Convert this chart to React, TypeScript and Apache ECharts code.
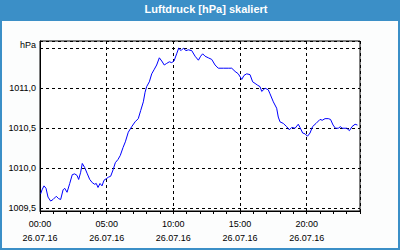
import React, { useEffect, useRef } from "react";
import * as echarts from "echarts";

const chartTitle = "Luftdruck [hPa] skaliert";
const unitLabel = "hPa";
const dateLabel = "26.07.16";

// hours since 00:00 on 26.07.16
const hours = [
  0.05, 0.15, 0.3, 0.45, 0.6, 0.8, 0.98, 1.22, 1.4, 1.55, 1.73, 1.85, 2.03, 2.23, 2.42, 2.6, 2.78, 2.9,
  3.05, 3.17, 3.35, 3.55, 3.73, 3.92, 4.1, 4.22, 4.35, 4.5, 4.65, 4.8, 4.97, 5.15, 5.3, 5.48, 5.65, 5.85,
  6.02, 6.23, 6.4, 6.62, 6.88, 7.13, 7.37, 7.55, 7.75, 7.88, 8.0, 8.2, 8.38, 8.55, 8.75, 8.95, 9.13, 9.32,
  9.5, 9.7, 9.88, 10.05, 10.25, 10.4, 10.58, 10.75, 10.95, 11.12, 11.38, 11.63, 11.88, 12.05, 12.2, 12.38,
  12.62, 12.88, 13.13, 13.37, 13.75, 14.12, 14.38, 14.63, 14.87, 15.13, 15.3, 15.5, 15.75, 15.95, 16.13,
  16.3, 16.5, 16.63, 16.88, 17.12, 17.25, 17.5, 17.75, 17.87, 18.0, 18.25, 18.5, 18.7, 18.88, 19.13, 19.37,
  19.5, 19.7, 19.88, 20.06, 20.25, 20.44, 20.7, 21.0, 21.17, 21.38, 21.62, 21.79, 21.98, 22.16, 22.37,
  22.54, 22.65, 23.0, 23.21, 23.4, 23.63, 23.81,
];

const pressure = [
  1009.68, 1009.73, 1009.78, 1009.75, 1009.64, 1009.59, 1009.61, 1009.65, 1009.62, 1009.61, 1009.73,
  1009.75, 1009.7, 1009.81, 1009.92, 1009.93, 1009.91, 1009.86, 1009.95, 1010.06, 1010.01, 1009.93,
  1009.86, 1009.82, 1009.8, 1009.81, 1009.76, 1009.81, 1009.78, 1009.85, 1009.87, 1009.89, 1009.9,
  1009.98, 1010.07, 1010.11, 1010.16, 1010.26, 1010.33, 1010.45, 1010.52, 1010.58, 1010.62, 1010.72,
  1010.83, 1010.95, 1011.02, 1011.08, 1011.18, 1011.23, 1011.29, 1011.38, 1011.34, 1011.29, 1011.31,
  1011.33, 1011.32, 1011.34, 1011.43, 1011.5, 1011.47, 1011.5, 1011.47, 1011.48, 1011.47, 1011.4,
  1011.35, 1011.4, 1011.43, 1011.4, 1011.38, 1011.36, 1011.29, 1011.25, 1011.25, 1011.25, 1011.25,
  1011.21, 1011.18, 1011.11, 1011.16, 1011.18, 1011.17, 1011.08, 1011.06, 1011.04, 1011.02, 1010.96,
  1011.0, 1010.98, 1010.93, 1010.83, 1010.75, 1010.64, 1010.58, 1010.56, 1010.52, 1010.48, 1010.51,
  1010.5, 1010.55, 1010.51, 1010.44, 1010.43, 1010.4, 1010.44, 1010.52, 1010.56, 1010.61, 1010.6,
  1010.62, 1010.62, 1010.61, 1010.54, 1010.5, 1010.5, 1010.52, 1010.5, 1010.5, 1010.47, 1010.52,
  1010.55, 1010.54,
];

const xMin = 0;
const xMax = 24;
const xLabelStep = 5;
const yMin = 1009.466;
const yMax = 1011.59;
const yStep = 0.5;

const FONT = "'Liberation Sans', Arial, sans-serif";
const BLUE = "#3b8fc7";

export default function App() {
  const ref = useRef<HTMLDivElement>(null);

  useEffect(() => {
    if (!ref.current) return;
    const chart = echarts.init(ref.current, undefined, { renderer: "svg" });
    const data = hours.map((h, i) => [h, pressure[i]]);
    const isStep = (v: number, s: number) => Math.abs(v / s - Math.round(v / s)) < 1e-6;

    chart.setOption({
      animation: false,
      backgroundColor: "#fcfdfd",
      textStyle: { fontFamily: FONT },
      graphic: [
        { type: "rect", shape: { x: 0, y: 0, width: 400, height: 21 }, style: { fill: BLUE }, silent: true },
        { type: "rect", shape: { x: 0, y: 0, width: 2, height: 250 }, style: { fill: BLUE }, silent: true },
        { type: "rect", shape: { x: 398, y: 0, width: 2, height: 250 }, style: { fill: BLUE }, silent: true },
        { type: "rect", shape: { x: 0, y: 248, width: 400, height: 2 }, style: { fill: BLUE }, silent: true },
        {
          type: "text",
          x: 206,
          y: 9,
          style: {
            text: chartTitle,
            fill: "#ffffff",
            font: `bold 11px ${FONT}`,
            textAlign: "center",
            textVerticalAlign: "middle",
          },
          silent: true,
        },
      ],
      grid: {
        left: 40,
        top: 41,
        right: 40,
        bottom: 39,
        show: true,
        backgroundColor: "#ffffff",
        borderColor: "#000000",
        borderWidth: 1,
      },
      xAxis: [
        {
          type: "value",
          min: xMin,
          max: xMax,
          interval: xLabelStep,
          axisLine: { show: true, lineStyle: { color: "#000", width: 1 } },
          axisTick: { show: false },
          splitLine: { show: true, lineStyle: { color: "#000", type: [3, 3], width: 1 } },
          axisLabel: {
            margin: 6,
            color: "#000",
            fontSize: 9,
            fontFamily: FONT,
            lineHeight: 14,
            showMaxLabel: false,
            formatter: (v: number) =>
              isStep(v, xLabelStep) ? `${String(Math.round(v)).padStart(2, "0")}:00\n${dateLabel}` : "",
          },
        },
        {
          type: "value",
          min: xMin,
          max: xMax,
          interval: 1,
          position: "bottom",
          axisLine: { show: false },
          axisTick: { show: true, length: 3, lineStyle: { color: "#000", width: 1 } },
          splitLine: { show: false },
          axisLabel: { show: false },
        },
      ],
      yAxis: {
        type: "value",
        min: yMin,
        max: yMax,
        splitNumber: 4,
        minInterval: yStep,
        maxInterval: yStep,
        axisLine: { show: true, lineStyle: { color: "#000", width: 1 } },
        axisTick: { show: false },
        splitLine: { show: true, lineStyle: { color: "#000", type: [3, 3], width: 1 } },
        axisLabel: {
          margin: 4,
          color: "#000",
          fontSize: 9,
          fontFamily: FONT,
          showMinLabel: false,
          showMaxLabel: false,
          formatter: (v: number) => {
            if (!isStep(v, yStep)) return "";
            if (Math.abs(v - 1011.5) < 1e-6) return `{u|${unitLabel}}`;
            return v.toFixed(1).replace(".", ",");
          },
          rich: {
            u: { fontSize: 9, fontFamily: FONT, color: "#000", padding: [0, 0, 6, 0] },
          },
        },
      },
      series: [
        {
          type: "line",
          xAxisIndex: 0,
          data,
          showSymbol: false,
          symbol: "none",
          lineStyle: { color: "#0000ff", width: 1 },
          itemStyle: { color: "#0000ff" },
        },
      ],
    });

    return () => chart.dispose();
  }, []);

  return (
    <div
      ref={ref}
      style={{ position: "absolute", left: 0, top: 0, width: 400, height: 250 }}
    />
  );
}
